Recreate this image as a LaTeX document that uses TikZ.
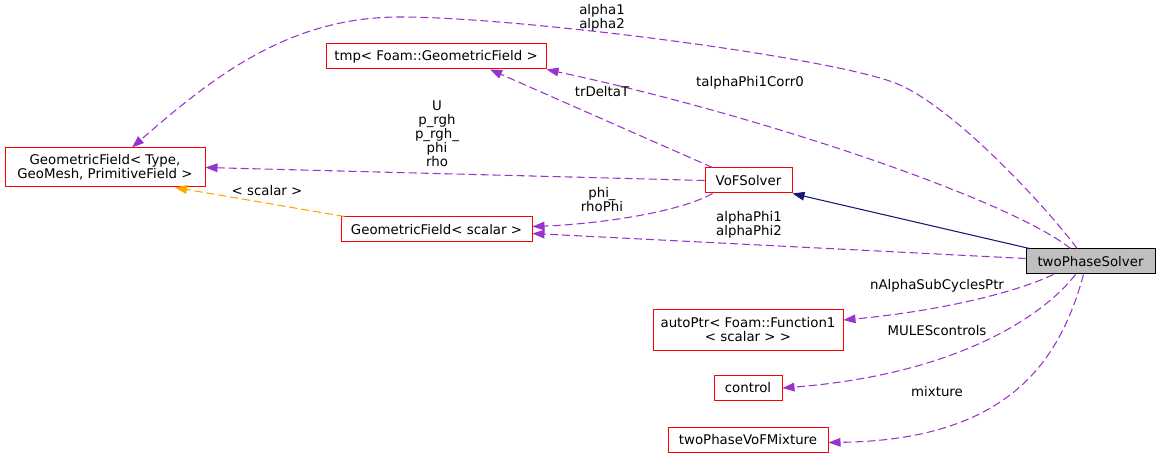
\documentclass[tikz,border=0pt]{standalone}
\usepackage{fontspec}
\setmainfont{DejaVu Sans}
\usetikzlibrary{arrows.meta, calc}

\definecolor{depcolor}{HTML}{9A32CD}
\definecolor{inhcolor}{HTML}{191970}
\definecolor{tplcolor}{HTML}{FFA500}
\definecolor{boxred}{HTML}{FF0000}
\definecolor{mainfill}{HTML}{BFBFBF}

\begin{document}
\begin{tikzpicture}[
    x=0.75pt, y=-0.75pt,
    font=\fontsize{10}{10.5}\selectfont,
    box/.style={rectangle, draw=boxred, line width=0.75pt, fill=white,
                inner sep=1pt, minimum height=18.75pt, align=center},
    mainbox/.style={box, draw=black, fill=mainfill},
    dep/.style={draw=depcolor, line width=0.8pt, dash pattern=on 6pt off 3pt,
                -{Triangle[length=9pt, width=6.5pt]}},
    inh/.style={draw=inhcolor, line width=0.8pt,
                -{Triangle[length=9pt, width=6.5pt]}},
    tpl/.style={draw=tplcolor, line width=0.8pt, dash pattern=on 6pt off 3pt,
                -{Triangle[length=9pt, width=6.5pt]}},
    elabel/.style={align=center, inner sep=0pt}
]
    \useasboundingbox (0,0) rectangle (1159,459);

    % Classes
    \node[box, minimum width=150pt, minimum height=29.25pt] (gf) at (105,167.5)
        {GeometricField< Type,\\ GeoMesh, PrimitiveField >};
    \node[box, minimum width=165pt] (tmp) at (436,56.5) {tmp< Foam::GeometricField >};
    \node[box, minimum width=65.25pt] (vof) at (748.5,180.5) {VoFSolver};
    \node[box, minimum width=143.25pt] (gfs) at (436.5,229.5) {GeometricField< scalar >};
    \node[mainbox, minimum width=96.75pt] (tps) at (1090.5,261.5) {twoPhaseSolver};
    \node[box, minimum width=142.5pt, minimum height=30pt] (autoptr) at (748,330)
        {autoPtr< Foam::Function1\\ < scalar > >};
    \node[box, minimum width=51pt] (ctrl) at (748,388) {control};
    \node[box, minimum width=120pt] (mixture) at (748,439.5) {twoPhaseVoFMixture};

    % Base class
    \draw[inh] ($(tps.north west)+(4,0)$) -- (vof.south east);

    % Template instance
    \draw[tpl] ($(gfs.north west)+(4,0)$) -- ($(gf.south)+(70,0)$);
    \node[elabel] (lscalar) at (267,191) {< scalar >};

    % Members of twoPhaseSolver
    \draw[dep] ($(tps.north)+(-13.5,0)$) .. controls (1052,214) and (960,112) .. (900,85)
        .. controls (840,58) and (520,17) .. (400,17)
        .. controls (290,17) and (215,75) .. ($(gf.north)+(27,0)$);
    \node[elabel] (lalpha) at (602,18) {alpha1\\alpha2};

    \draw[dep] ($(tps.north)+(-20,0)$) .. controls (1010,200) and (760,115) .. (tmp.south east);
    \node[elabel] (ltalpha) at (750,83) {talphaPhi1Corr0};

    \draw[dep] ($(tps.west)+(0,-3)$) -- ($(gfs.east)+(0,4)$);
    \node[elabel] (lalphaphi) at (749,225) {alphaPhi1\\alphaPhi2};

    \draw[dep] ($(tps.south)+(-37,0)$) .. controls (1010,295) and (930,312) .. ($(autoptr.east)+(0,-10)$);
    \node[elabel] (lnalpha) at (937,286) {nAlphaSubCyclesPtr};

    \draw[dep] ($(tps.south)+(-15,0)$) .. controls (1040,320) and (950,375) .. (ctrl.east);
    \node[elabel] (lmules) at (937,331) {MULEScontrols};

    \draw[dep] ($(tps.south)+(-7,0)$) .. controls (1060,360) and (1010,440) .. ($(mixture.east)+(0,3)$);
    \node[elabel] (lmixture) at (937,392) {mixture};

    % Members of VoFSolver
    \draw[dep] ($(vof.north)+(-36,0)$) -- ($(tmp.south)+(54,0)$);
    \node[elabel] (ltrdelta) at (602,92) {trDeltaT};

    \draw[dep] (vof.west) -- (gf.east);
    \node[elabel] (lfields) at (437,134) {U\\p\_rgh\\p\_rgh\_\\phi\\rho};

    \draw[dep] ($(vof.south west)+(8,0)$) .. controls (680,212) and (600,224) .. ($(gfs.east)+(0,-3)$);
    \node[elabel] (lphi) at (602,200) {phi\_\\rhoPhi};

\end{tikzpicture}
\end{document}
